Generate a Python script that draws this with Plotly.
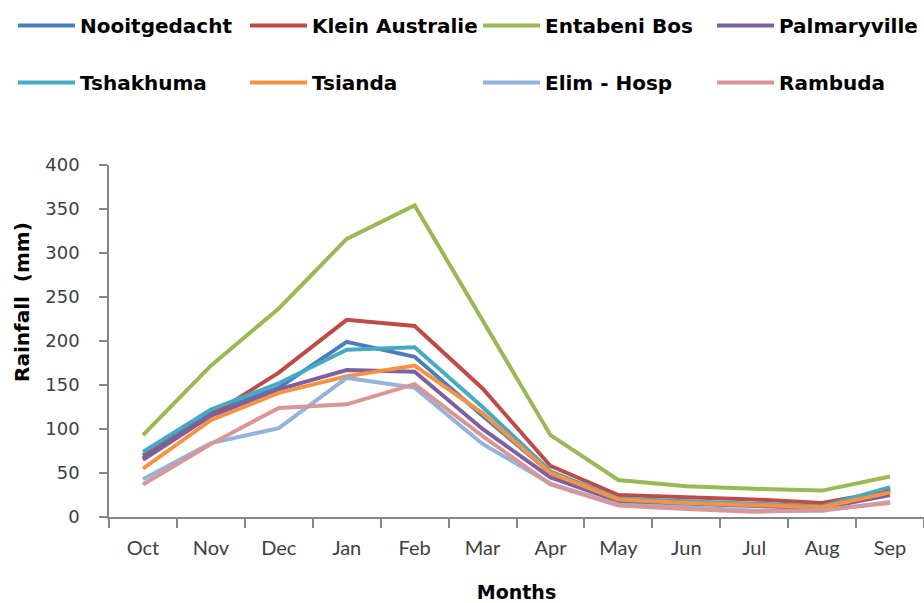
import plotly.graph_objects as go

months = ["Oct", "Nov", "Dec", "Jan", "Feb", "Mar", "Apr", "May", "Jun", "Jul", "Aug", "Sep"]

nooitgedacht = [70, 118, 147, 199, 182, 115, 50, 20, 17, 14, 12, 32]
klein_australie = [67, 116, 164, 224, 217, 146, 58, 25, 23, 20, 16, 30]
entabeni_bos = [93, 172, 237, 316, 354, 223, 93, 42, 35, 32, 30, 46]
palmaryville = [65, 115, 145, 167, 165, 100, 45, 18, 15, 12, 10, 25]
tshakhuma = [74, 122, 152, 190, 193, 125, 52, 21, 18, 15, 12, 34]
tsianda = [55, 110, 141, 160, 172, 118, 50, 20, 16, 13, 11, 28]
elim_hosp = [43, 84, 101, 158, 147, 83, 38, 14, 11, 7, 7, 17]
rambuda = [37, 83, 124, 128, 151, 92, 37, 13, 9, 6, 8, 16]

# (name, values, colour, legend column)
stations = [
    ("Nooitgedacht", nooitgedacht, "#4A7EBB", "legend"),
    ("Klein Australie", klein_australie, "#BE4B48", "legend2"),
    ("Entabeni Bos", entabeni_bos, "#98B954", "legend3"),
    ("Palmaryville", palmaryville, "#7D60A0", "legend4"),
    ("Tshakhuma", tshakhuma, "#46AAC5", "legend"),
    ("Tsianda", tsianda, "#F69240", "legend2"),
    ("Elim - Hosp", elim_hosp, "#93B3DA", "legend3"),
    ("Rambuda", rambuda, "#D99694", "legend4"),
]

fig = go.Figure()
for name, vals, color, leg in stations:
    fig.add_trace(go.Scatter(
        x=months, y=vals, name=name, mode="lines",
        line=dict(color=color, width=4),
        legend=leg, legendgroup=name,
    ))

plot_left, plot_width = 109, 815
plot_bottom, plot_height = 517, 352


def px_x(px):
    return (px - plot_left) / plot_width


def px_y(py):
    return (plot_bottom - py) / plot_height


bold_font = "DejaVu Sans, sans-serif"
legend_font = dict(family=bold_font, size=20, color="#000000", weight="bold")
legend_common = dict(
    orientation="v", xanchor="left", yanchor="top", y=px_y(6),
    font=legend_font, bgcolor="rgba(0,0,0,0)", itemwidth=57,
    tracegroupgap=28, traceorder="grouped",
)
column_px = [13, 245, 478, 712]

tick_font = dict(family="DejaVu Sans, sans-serif", size=18, color="#404040")
axis_color = "#868686"

fig.update_layout(
    width=924, height=603,
    margin=dict(l=plot_left, r=0, t=165, b=86),
    paper_bgcolor="white", plot_bgcolor="white",
    legend=dict(x=px_x(column_px[0]), **legend_common),
    legend2=dict(x=px_x(column_px[1]), **legend_common),
    legend3=dict(x=px_x(column_px[2]), **legend_common),
    legend4=dict(x=px_x(column_px[3]), **legend_common),
    xaxis=dict(
        type="category", range=[-0.5, 11.5],
        showline=True, linecolor=axis_color, linewidth=1.5,
        ticks="outside", tickson="boundaries", ticklen=9, tickcolor=axis_color, tickwidth=1.5,
        showgrid=False, zeroline=False,
        tickfont=dict(family="Lato, sans-serif", size=20, color="#404040"),
        ticklabelstandoff=12,
        title=dict(text="Months", font=dict(family=bold_font, size=19, color="#000000", weight="bold"), standoff=30),
    ),
    yaxis=dict(
        range=[0, 400], dtick=50,
        showline=True, linecolor=axis_color, linewidth=1.5,
        ticks="outside", ticklen=8, tickcolor=axis_color, tickwidth=1.5,
        showgrid=False, zeroline=False,
        tickfont=tick_font, ticklabelstandoff=16,
    ),
    annotations=[dict(
        text="Rainfall  (mm)", textangle=-90,
        xref="paper", yref="paper", x=px_x(22), y=px_y(302),
        xanchor="center", yanchor="middle", showarrow=False,
        font=dict(family=bold_font, size=20, color="#000000", weight="bold"),
    )],
)

fig.write_html("out.html")
